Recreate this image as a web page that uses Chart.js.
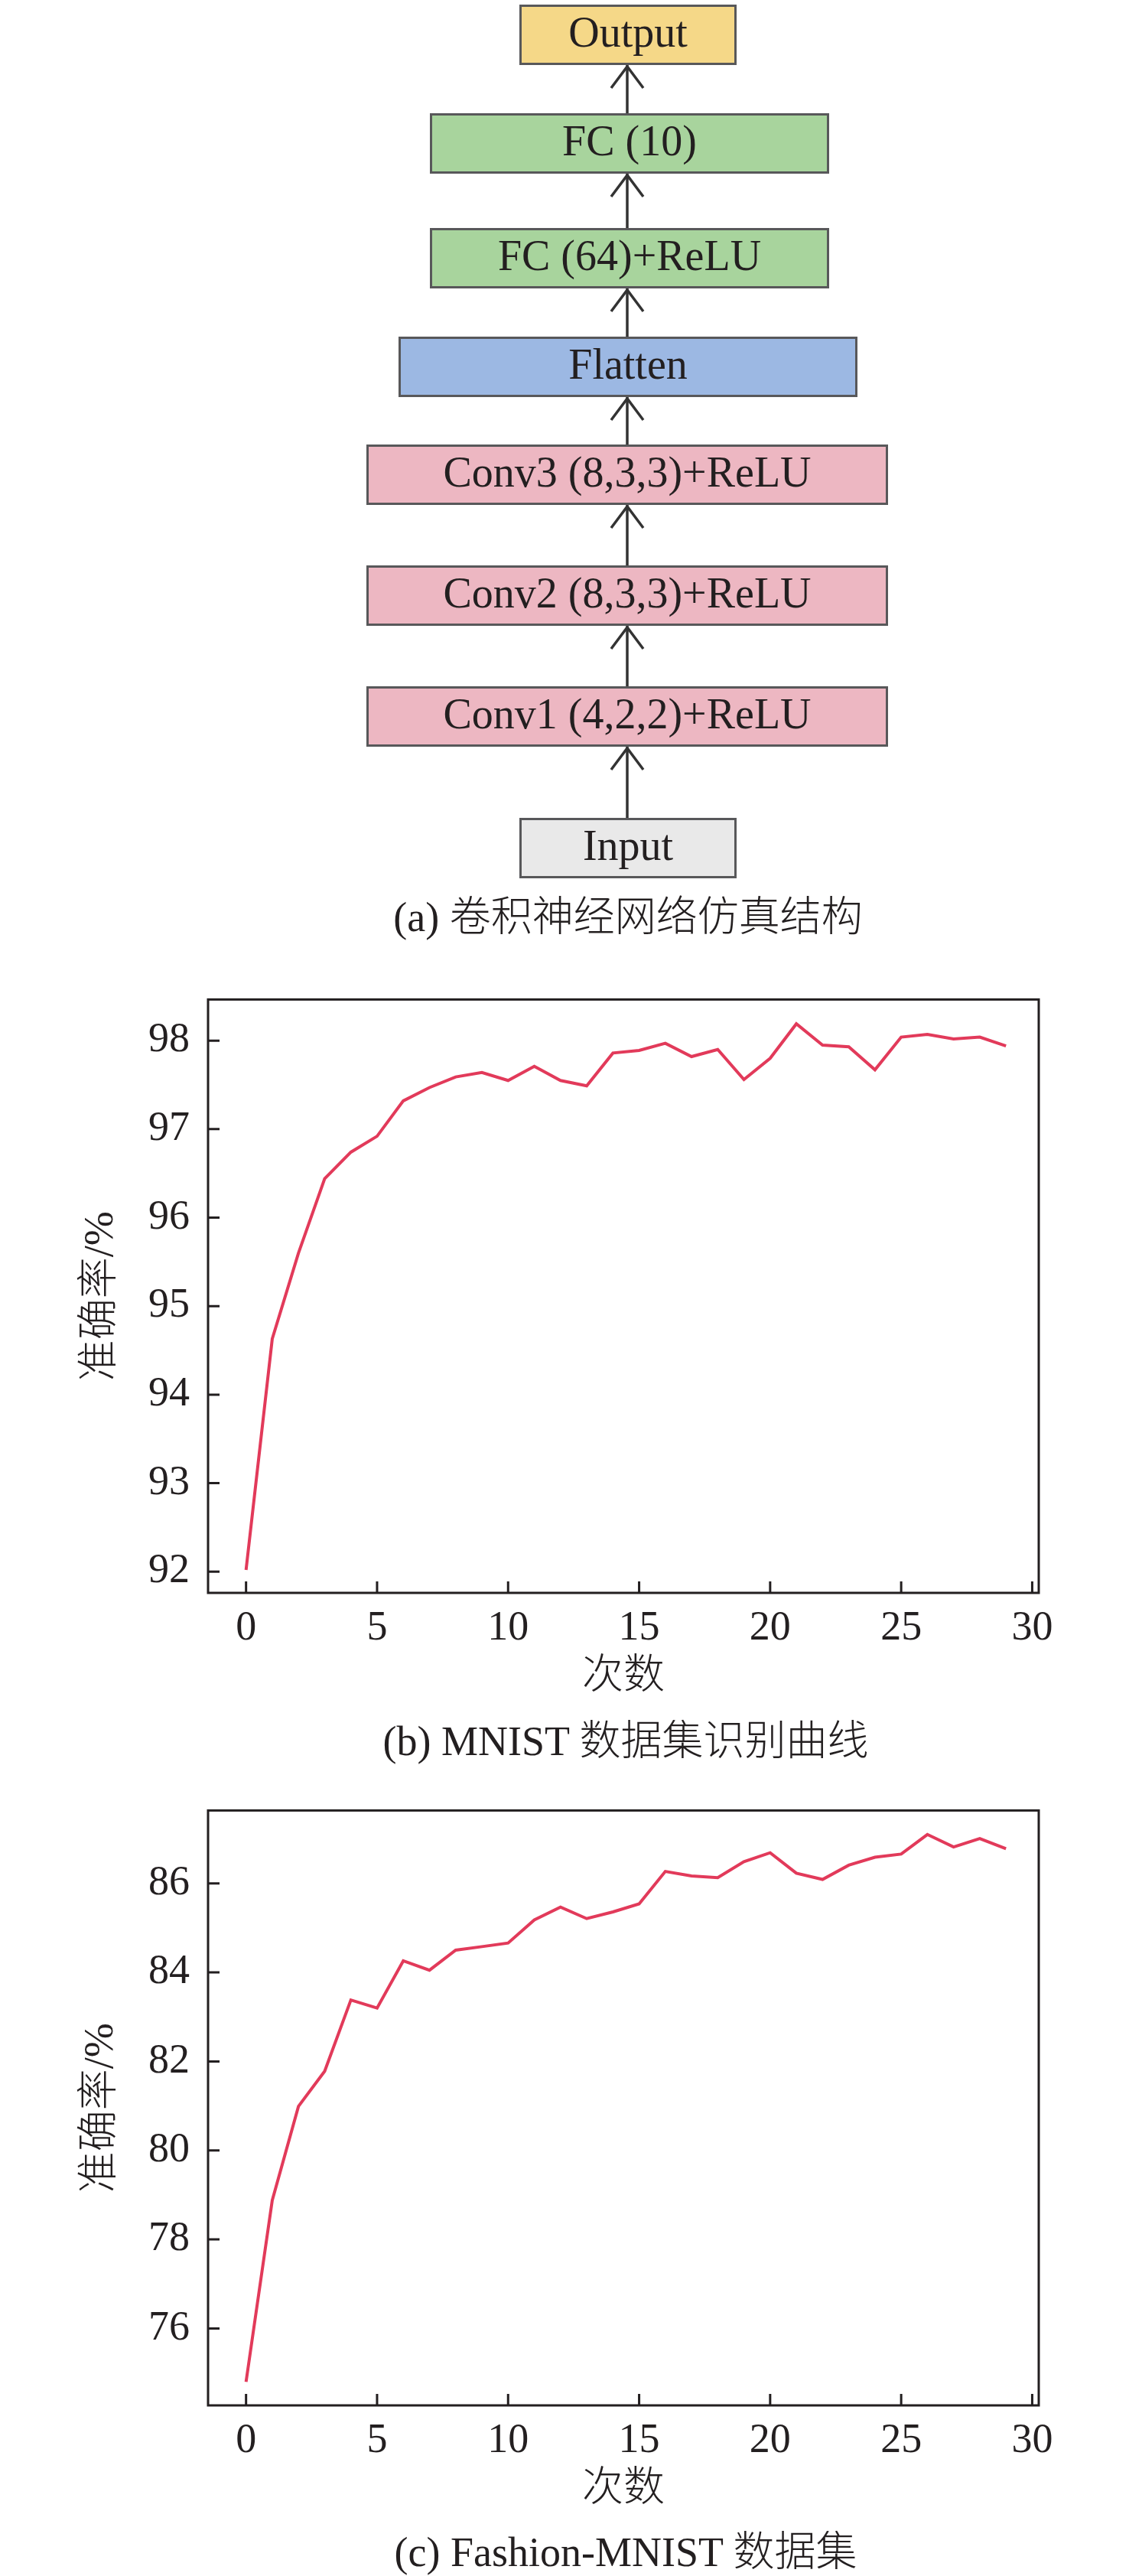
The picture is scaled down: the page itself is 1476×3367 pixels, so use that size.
<!DOCTYPE html>
<html>
<head>
<meta charset="utf-8">
<script src="https://cdn.jsdelivr.net/npm/chart.js@4.4.1/dist/chart.umd.min.js"></script>
<style>
html,body{margin:0;padding:0;background:#fff;}
body{width:1476px;height:3367px;position:relative;overflow:hidden;font-family:"Liberation Serif","Noto Sans CJK SC",serif;color:#231f20;}
.box{position:absolute;box-sizing:border-box;border:3px solid #58585a;text-align:center;font-size:56px;line-height:73px;white-space:nowrap;}
.box span{position:relative;top:-3px;}
.cap{position:absolute;left:318px;width:1000px;height:80px;line-height:80px;text-align:center;font-size:54px;white-space:nowrap;font-weight:300;}
.wrap{position:absolute;left:0;width:1476px;}
</style>
</head>
<body>
<!-- (a) network structure diagram -->
<svg width="1476" height="1250" style="position:absolute;left:0;top:0" id="arrows"></svg>
<div class="box" style="left:679px;top:6px;width:284px;height:79px;background:#f5d888;"><span>Output</span></div>
<div class="box" style="left:562px;top:148px;width:522px;height:79px;background:#a8d49d;"><span>FC (10)</span></div>
<div class="box" style="left:562px;top:298px;width:522px;height:79px;background:#a8d49d;"><span>FC (64)+ReLU</span></div>
<div class="box" style="left:521px;top:440px;width:600px;height:79px;background:#9cb8e3;"><span>Flatten</span></div>
<div class="box" style="left:479px;top:581px;width:682px;height:79px;background:#edb7c2;"><span>Conv3 (8,3,3)+ReLU</span></div>
<div class="box" style="left:479px;top:739px;width:682px;height:79px;background:#edb7c2;"><span>Conv2 (8,3,3)+ReLU</span></div>
<div class="box" style="left:479px;top:897px;width:682px;height:79px;background:#edb7c2;"><span>Conv1 (4,2,2)+ReLU</span></div>
<div class="box" style="left:679px;top:1069px;width:284px;height:79px;background:#e9e9e9;"><span>Input</span></div>
<div class="cap" style="top:1159px;left:321px;">(a) 卷积神经网络仿真结构</div>

<!-- (b) MNIST -->
<div class="wrap" style="top:1250px;height:1000px;"><canvas id="chartB"></canvas></div>
<div class="cap" style="top:2236px;">(b) MNIST 数据集识别曲线</div>

<!-- (c) Fashion-MNIST -->
<div class="wrap" style="top:2310px;height:1002px;"><canvas id="chartC"></canvas></div>
<div class="cap" style="top:3296px;">(c) Fashion-MNIST 数据集</div>

<script>
// ---------- data ----------
const epochs = [0,1,2,3,4,5,6,7,8,9,10,11,12,13,14,15,16,17,18,19,20,21,22,23,24,25,26,27,28,29];
const mnistAcc = [92.02,94.63,95.60,96.44,96.74,96.92,97.32,97.47,97.59,97.64,97.55,97.71,97.55,97.49,97.86,97.89,97.97,97.82,97.90,97.56,97.80,98.19,97.95,97.93,97.67,98.04,98.07,98.02,98.04,97.94];
const fashionAcc = [74.80,78.88,80.99,81.78,83.38,83.20,84.26,84.05,84.50,84.58,84.66,85.18,85.47,85.21,85.36,85.54,86.27,86.17,86.13,86.49,86.69,86.23,86.09,86.41,86.59,86.66,87.10,86.82,87.01,86.78];
const xTicks = [0,5,10,15,20,25,30];
const mnistYTicks = [92,93,94,95,96,97,98];
const fashionYTicks = [76,78,80,82,84,86];
const xTitle = '次数';
const yTitle = '准确率/%';

// ---------- diagram arrows ----------
const arrowPairs = [[1069,976],[897,818],[739,660],[581,519],[440,377],[298,227],[148,85]];
(function(){
  const svg = document.getElementById('arrows');
  const cx = 820;
  let s = '';
  arrowPairs.forEach(([from,to])=>{
    s += `<line x1="${cx}" y1="${from}" x2="${cx}" y2="${to}" stroke="#333" stroke-width="3.5"/>`;
    s += `<polyline points="${cx-21},${to+30} ${cx},${to+2} ${cx+21},${to+30}" fill="none" stroke="#333" stroke-width="3.5"/>`;
  });
  svg.innerHTML = s;
})();

// ---------- charts ----------
const TICKFONT = "'Liberation Serif', serif";
const FONT = "'Liberation Serif', 'Noto Sans CJK SC', serif";
const INK = '#231f20';
const frameTicks = {
  id:'frameTicks',
  afterDraw(chart){
    const {ctx, chartArea:a, scales:{x,y}} = chart;
    ctx.save();
    ctx.strokeStyle = INK; ctx.lineWidth = 3;
    ctx.beginPath();
    x.ticks.forEach(t=>{const px = x.getPixelForValue(t.value); ctx.moveTo(px,a.bottom); ctx.lineTo(px,a.bottom-15);});
    y.ticks.forEach(t=>{const py = y.getPixelForValue(t.value); ctx.moveTo(a.left,py); ctx.lineTo(a.left+15,py);});
    ctx.stroke();
    ctx.strokeRect(a.left, a.top, a.right-a.left, a.bottom-a.top);
    ctx.restore();
  }
};

function makeChart(id, values, yMin, yMax, yTicks, padTop){
  new Chart(document.getElementById(id), {
    type:'line',
    data:{datasets:[{data: epochs.map((e,i)=>({x:e, y:values[i]})), borderColor:'#e23a5a', borderWidth:4, pointRadius:0, tension:0, fill:false}]},
    options:{
      responsive:true, maintainAspectRatio:false, animation:false,
      layout:{padding:{top:padTop, right:118, left:0, bottom:0}},
      plugins:{legend:{display:false}, tooltip:{enabled:false}},
      scales:{
        x:{type:'linear', min:-1.45, max:30.25,
           afterBuildTicks:s=>{s.ticks = xTicks.map(v=>({value:v}));},
           afterFit:s=>{s.height = 168;},
           grid:{display:false, drawTicks:false}, border:{display:false},
           ticks:{font:{family:TICKFONT,size:54}, color:INK, padding:14, maxRotation:0, autoSkip:false},
           title:{display:true, text:xTitle, font:{family:FONT,size:54,weight:'300'}, color:INK, padding:{top:0,bottom:25}}},
        y:{type:'linear', min:yMin, max:yMax,
           afterBuildTicks:s=>{s.ticks = yTicks.map(v=>({value:v}));},
           afterFit:s=>{s.width = 272;},
           grid:{display:false, drawTicks:false}, border:{display:false},
           ticks:{font:{family:TICKFONT,size:54}, color:INK, padding:24, autoSkip:false},
           title:{display:true, text:yTitle, font:{family:FONT,size:54,weight:'300'}, color:INK, padding:{top:100,bottom:0}}}
      }
    },
    plugins:[frameTicks]
  });
}
makeChart('chartB', mnistAcc, 91.76, 98.465, mnistYTicks, 40);
makeChart('chartC', fashionAcc, 74.27, 87.64, fashionYTicks, 45);
</script>
</body>
</html>
